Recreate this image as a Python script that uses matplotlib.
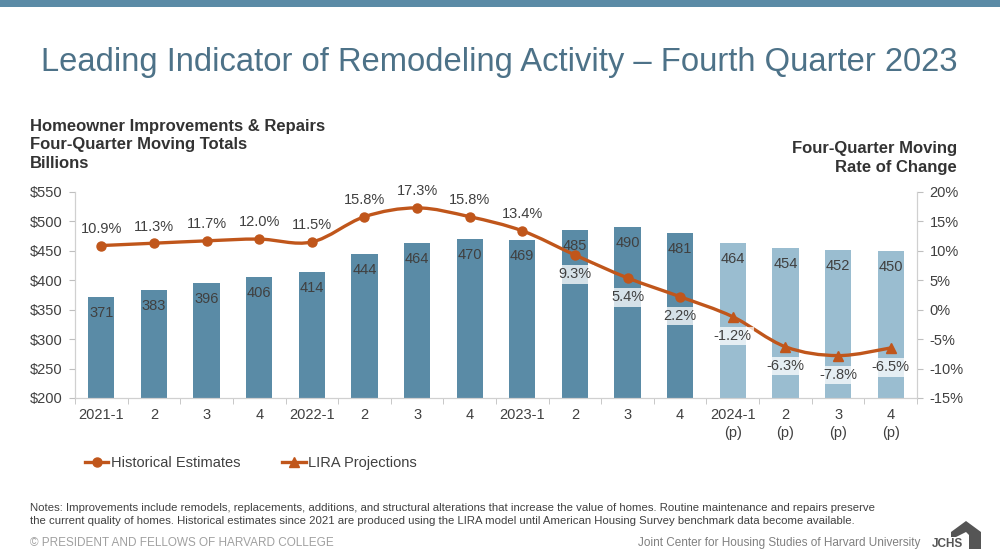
import numpy as np
import matplotlib.pyplot as plt
from matplotlib.path import Path
from matplotlib.patches import PathPatch, Polygon, Rectangle
from matplotlib.lines import Line2D

plt.rcParams['font.family'] = ['Liberation Sans', 'DejaVu Sans']
plt.rcParams['axes.unicode_minus'] = False

# data
categories = ['2021-1', '2', '3', '4', '2022-1', '2', '3', '4',
              '2023-1', '2', '3', '4', '2024-1\n(p)', '2\n(p)', '3\n(p)', '4\n(p)']
spending = [371, 383, 396, 406, 414, 444, 464, 470, 469, 485, 490, 481, 464, 454, 452, 450]
rate = [10.9, 11.3, 11.7, 12.0, 11.5, 15.8, 17.3, 15.8, 13.4, 9.3, 5.4, 2.2, -1.2, -6.3, -7.8, -6.5]
n_hist = 12
label_below = [False] * 9 + [True] * 7

dark_bar = '#5a8ba6'
light_bar = '#9abdd0'
line_col = '#c0561b'
text_col = '#404040'

fig = plt.figure(figsize=(10, 5.57), dpi=100)

# top band
fig.patches.append(Rectangle((0, 1 - 7 / 557), 1, 7 / 557, transform=fig.transFigure,
                             facecolor='#5b8ba6', edgecolor='none'))

fig.text(0.041, 0.887, 'Leading Indicator of Remodeling Activity \u2013 Fourth Quarter 2023',
         fontsize=23.6, color='#4d7288', va='center', ha='left')

fig.text(0.03, 0.74, 'Homeowner Improvements & Repairs\nFour-Quarter Moving Totals\nBillions',
         fontsize=12, fontweight='bold', color='#333333', va='center', ha='left', linespacing=1.27)
fig.text(0.957, 0.716, 'Four-Quarter Moving\nRate of Change',
         fontsize=12, fontweight='bold', color='#333333', va='center', ha='right',
         multialignment='right', linespacing=1.35)

ax = fig.add_axes([0.075, 0.2855, 0.842, 0.3698])
x = np.arange(len(categories))
colors = [dark_bar] * n_hist + [light_bar] * (len(categories) - n_hist)
ax.bar(x, spending, width=0.5, color=colors, zorder=1)
ax.set_ylim(200, 550)
ax.set_xlim(-0.5, len(categories) - 0.5)
ax.set_yticks(np.arange(200, 551, 50))
ax.set_yticklabels(['$%d' % v for v in range(200, 551, 50)])
ax.set_xticks(x)
ax.set_xticklabels(categories, linespacing=1.35)
ax.set_xticks(np.arange(-0.5, len(categories), 1), minor=True)
ax.tick_params(axis='x', which='major', length=0, pad=7, labelsize=10.5, colors=text_col)
ax.tick_params(axis='x', which='minor', length=4, color='#bfbfbf')
ax.tick_params(axis='y', length=4, color='#bfbfbf', labelsize=10.5, labelcolor=text_col, pad=5)
ax.spines['top'].set_visible(False)
for s in ['left', 'bottom', 'right']:
    ax.spines[s].set_color('#d0d0d0')

for xi, v in zip(x, spending):
    ax.annotate(str(v), (xi, v), xytext=(0, -11.5), textcoords='offset points',
                ha='center', va='center', fontsize=10.5, color=text_col, zorder=2)

ax2 = ax.twinx()
ax2.set_ylim(-15, 20)
ax2.set_yticks(np.arange(-15, 21, 5))
ax2.set_yticklabels(['%d%%' % v for v in range(-15, 21, 5)])
ax2.tick_params(axis='y', length=4, color='#bfbfbf', labelsize=10.5, labelcolor=text_col, pad=5)
ax2.spines['top'].set_visible(False)
for s in ['left', 'bottom', 'right']:
    ax2.spines[s].set_color('#d0d0d0')

# smoothed line (Bezier through the points, like spreadsheet smoothing)
pts = np.column_stack([x, rate]).astype(float)
verts = [tuple(pts[0])]
codes = [Path.MOVETO]
for i in range(len(pts) - 1):
    p0 = pts[i - 1] if i > 0 else pts[i]
    p1 = pts[i]
    p2 = pts[i + 1]
    p3 = pts[i + 2] if i + 2 < len(pts) else pts[i + 1]
    c1 = p1 + (p2 - p0) / 6
    c2 = p2 - (p3 - p1) / 6
    verts += [tuple(c1), tuple(c2), tuple(p2)]
    codes += [Path.CURVE4] * 3
ax2.add_patch(PathPatch(Path(verts, codes), facecolor='none', edgecolor=line_col,
                        linewidth=2.4, zorder=3, capstyle='round'))
ax2.plot(x[:n_hist], rate[:n_hist], 'o', color=line_col, markersize=6.5, zorder=4)
ax2.plot(x[n_hist:], rate[n_hist:], '^', color=line_col, markersize=7, zorder=4)

for xi, r, below in zip(x, rate, label_below):
    if below:
        ax2.annotate('%.1f%%' % r, (xi, r), xytext=(0, -14), textcoords='offset points',
                     ha='center', va='center', fontsize=10.5, color=text_col, zorder=5,
                     bbox=dict(boxstyle='square,pad=0.15', facecolor='white', alpha=0.75,
                               edgecolor='none'))
    else:
        ax2.annotate('%.1f%%' % r, (xi, r), xytext=(0, 12), textcoords='offset points',
                     ha='center', va='center', fontsize=10.5, color=text_col, zorder=5)

handles = [Line2D([], [], color=line_col, marker='o', linewidth=2.4, markersize=6.5),
           Line2D([], [], color=line_col, marker='^', linewidth=2.4, markersize=7)]
fig.legend(handles, ['Historical Estimates', 'LIRA Projections'], loc='center left',
           bbox_to_anchor=(0.085, 0.168), ncol=2, frameon=False, fontsize=10.5,
           handlelength=1.6, handletextpad=0.15, columnspacing=2.9, labelcolor=text_col,
           borderaxespad=0, borderpad=0)

notes = ('Notes: Improvements include remodels, replacements, additions, and structural alterations that '
         'increase the value of homes. Routine maintenance and repairs preserve\n'
         'the current quality of homes. Historical estimates since 2021 are produced using the LIRA '
         'model until American Housing Survey benchmark data become available.')
fig.text(0.03, 0.076, notes, fontsize=8.2, color='#404040', va='center', ha='left',
         linespacing=1.4)
fig.text(0.03, 0.025, '\u00a9 PRESIDENT AND FELLOWS OF HARVARD COLLEGE', fontsize=8.5,
         color='#a0a0a0', va='center', ha='left')
fig.text(0.92, 0.025, 'Joint Center for Housing Studies of Harvard University', fontsize=8.5,
         color='#808080', va='center', ha='right')
fig.text(0.932, 0.023, 'JCHS', fontsize=8.5, fontweight='bold', color='#555555',
         va='center', ha='left')
# house shape of the logo (pixel outline converted to figure fractions)
house_px = [(951, 537), (951, 532), (966, 521), (981, 532), (981, 549), (969, 549),
            (969, 535), (966, 532), (956, 537)]
house = [(px / 1000, 1 - py / 557) for px, py in house_px]
fig.patches.append(Polygon(house, closed=True, transform=fig.transFigure,
                           facecolor='#555555', edgecolor='none'))

fig.savefig('out.png', dpi=100)
